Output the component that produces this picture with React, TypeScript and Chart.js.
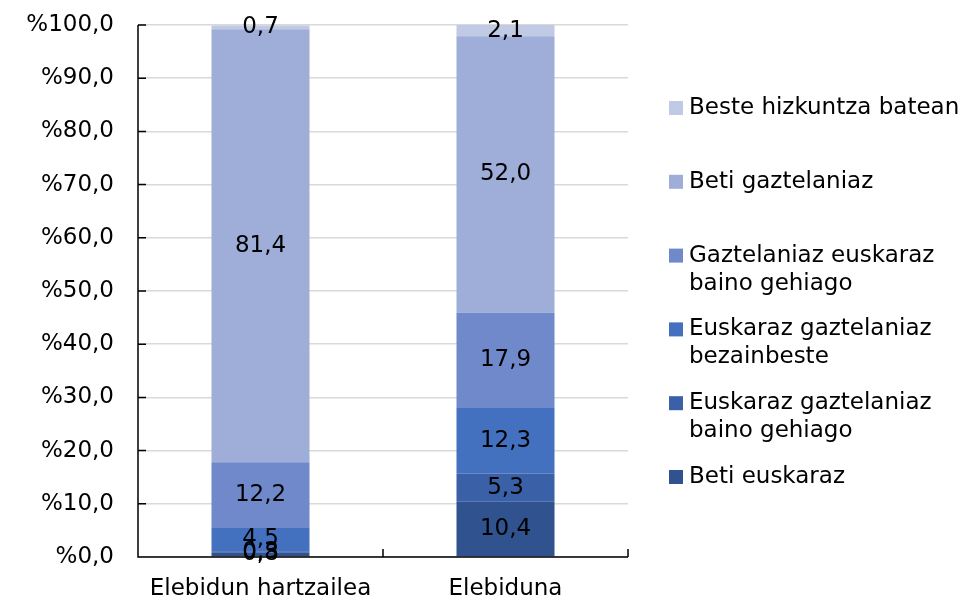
import React, { useEffect, useRef } from "react";
import { Chart, registerables } from "chart.js";

Chart.register(...registerables);

const categories = ["Elebidun hartzailea", "Elebiduna"];
const seriesNames = [
  "Beti euskaraz",
  "Euskaraz gaztelaniaz baino gehiago",
  "Euskaraz gaztelaniaz bezainbeste",
  "Gaztelaniaz euskaraz baino gehiago",
  "Beti gaztelaniaz",
  "Beste hizkuntza batean",
];
const legendLines = [
  ["Beti euskaraz"],
  ["Euskaraz gaztelaniaz", "baino gehiago"],
  ["Euskaraz gaztelaniaz", "bezainbeste"],
  ["Gaztelaniaz euskaraz", "baino gehiago"],
  ["Beti gaztelaniaz"],
  ["Beste hizkuntza batean"],
];
const betiEuskaraz = [0.8, 10.4];
const euskarazBainoGehiago = [0.3, 5.3];
const euskarazBezainbeste = [4.5, 12.3];
const gaztelaniazBainoGehiago = [12.2, 17.9];
const betiGaztelaniaz = [81.4, 52.0];
const besteHizkuntza = [0.7, 2.1];
const seriesValues = [
  betiEuskaraz,
  euskarazBainoGehiago,
  euskarazBezainbeste,
  gaztelaniazBainoGehiago,
  betiGaztelaniaz,
  besteHizkuntza,
];
const colors = ["#30528F", "#3A60A8", "#4470C0", "#6F89CA", "#9EAED8", "#C0CAE5"];

const FONT = "'DejaVu Sans', Verdana, sans-serif";
const FS = 23;
const fmt = (v: number) => v.toFixed(1).replace(".", ",");

const decorPlugin = {
  id: "decor",
  afterDatasetsDraw(chart: any) {
    const ctx = chart.ctx;
    ctx.save();
    ctx.font = `${FS}px ${FONT}`;
    ctx.fillStyle = "#000";
    ctx.textAlign = "center";
    ctx.textBaseline = "middle";
    chart.data.datasets.forEach((ds: any, i: number) => {
      const meta = chart.getDatasetMeta(i);
      meta.data.forEach((bar: any, j: number) => {
        const v = ds.data[j];
        const y = (bar.y + bar.base) / 2;
        ctx.fillText(fmt(v), bar.x, y);
      });
    });
    ctx.restore();
  },
  afterDraw(chart: any) {
    const ctx = chart.ctx;
    const a = chart.chartArea;
    const ys = chart.scales.y;
    ctx.save();
    ctx.strokeStyle = "#000";
    ctx.lineWidth = 1.5;
    ctx.beginPath();
    ctx.moveTo(a.left, a.top);
    ctx.lineTo(a.left, a.bottom);
    ctx.lineTo(a.right, a.bottom);
    ys.ticks.forEach((t: any) => {
      const y = ys.getPixelForValue(t.value);
      ctx.moveTo(a.left, y);
      ctx.lineTo(a.left + 8, y);
    });
    const n = chart.data.labels.length;
    for (let i = 1; i <= n; i++) {
      const x = a.left + ((a.right - a.left) * i) / n;
      ctx.moveTo(x, a.bottom);
      ctx.lineTo(x, a.bottom - 8);
    }
    ctx.stroke();

    // legend
    ctx.font = `${FS}px ${FONT}`;
    ctx.textAlign = "left";
    ctx.textBaseline = "middle";
    const boxX = 669;
    const textX = 689;
    const startY = 108;
    const step = 73.8;
    const ds = chart.data.datasets;
    for (let k = 0; k < ds.length; k++) {
      const idx = ds.length - 1 - k;
      const y = startY + k * step;
      ctx.fillStyle = ds[idx].backgroundColor;
      ctx.fillRect(boxX, y - 7, 14, 14);
      ctx.fillStyle = "#000";
      legendLines[idx].forEach((line, li) => {
        ctx.fillText(line, textX, y + li * 28);
      });
    }
    ctx.restore();
  },
};

export default function App() {
  const ref = useRef<HTMLCanvasElement>(null);
  useEffect(() => {
    if (!ref.current) return;
    const chart = new Chart(ref.current, {
      type: "bar",
      data: {
        labels: categories,
        datasets: seriesNames.map((name, i) => ({
          label: name,
          data: seriesValues[i],
          backgroundColor: colors[i],
          borderWidth: 0,
          barPercentage: 0.4,
          categoryPercentage: 1,
        })),
      },
      options: {
        responsive: false,
        animation: false,
        layout: { padding: { left: 0, top: 25, right: 347, bottom: 0 } },
        plugins: { legend: { display: false }, tooltip: { enabled: false } },
        scales: {
          x: {
            stacked: true,
            grid: { display: false, drawTicks: false },
            border: { display: false },
            ticks: { color: "#000", font: { family: FONT, size: FS }, padding: 18 },
            afterFit: (s: any) => {
              s.height = 43;
              s.paddingLeft = 0;
              s.paddingRight = 0;
            },
          },
          y: {
            stacked: true,
            min: 0,
            max: 100,
            grid: { color: "#D9D9D9", lineWidth: 1.5, drawTicks: false },
            border: { display: false },
            ticks: {
              stepSize: 10,
              color: "#000",
              font: { family: FONT, size: FS },
              padding: 24,
              callback: (v: any) => "%" + fmt(Number(v)),
            },
            afterFit: (s: any) => {
              s.width = 138;
              s.paddingTop = 0;
              s.paddingBottom = 0;
            },
          },
        },
      },
      plugins: [decorPlugin],
    });
    return () => chart.destroy();
  }, []);
  return (
    <div style={{ position: "absolute", left: 0, top: 0, width: 975, height: 600, background: "#fff" }}>
      <canvas ref={ref} width={975} height={600} />
    </div>
  );
}
